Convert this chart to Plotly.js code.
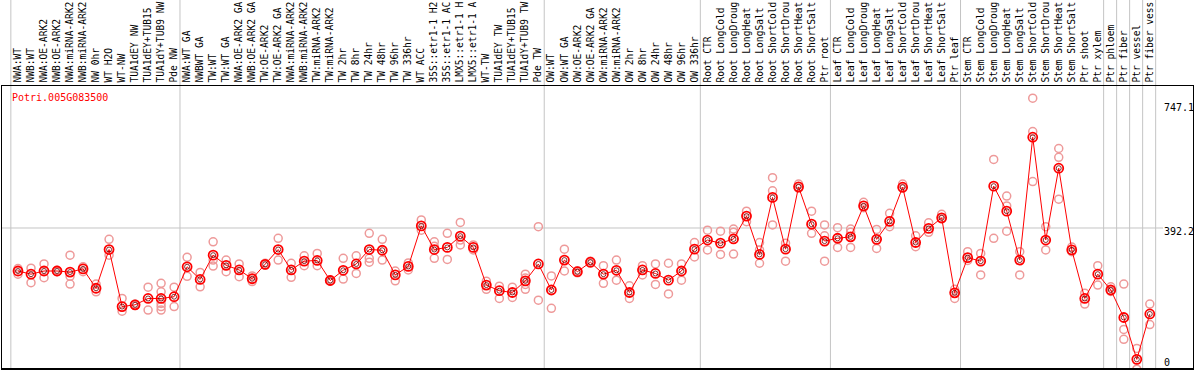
<!DOCTYPE html>
<html>
<head>
<meta charset="utf-8">
<script src="https://cdn.plot.ly/plotly-3.0.1.min.js"></script>
<style>html,body{margin:0;padding:0;background:#fff;}#chart{width:1194px;height:370px;}</style>
</head>
<body>
<div id="chart"></div>
<script>
var geneName = "Potri.005G083500";
var categories = [
"NWA:WT","NWB:WT","NWA:OE-ARK2","NWB:OE-ARK2","NWA:miRNA-ARK2","NWB:miRNA-ARK2","NW 0hr","WT H2O","WT-NW","TUA1dEY NW","TUA1dEY+TUB15","TUA1dY+TUB9 NW","Pde NW",
"NWA:WT GA","NWBWT GA","TW:WT","TW:WT GA","NWA:OE-ARK2 GA","NWB:OE-ARK2 GA","TW:OE-ARK2","TW:OE-ARK2 GA","NWA:miRNA-ARK2","NWB:miRNA-ARK2","TW:miRNA-ARK2","TW:miRNA-ARK2",
"TW 2hr","TW 8hr","TW 24hr","TW 48hr","TW 96hr","TW 336hr","WT ACC","35S::etr1-1 H2","35S::etr1-1 AC","LMX5::etr1-1 H","LMX5::etr1-1 A","WT-TW","TUA1dEY TW","TUA1dEY+TUB15","TUA1dY+TUB9 TW","Pde TW",
"OW:WT","OW:WT GA","OW:OE-ARK2","OW:OE-ARK2 GA","OW:miRNA-ARK2","OW:miRNA-ARK2","OW 2hr","OW 8hr","OW 24hr","OW 48hr","OW 96hr","OW 336hr",
"Root CTR","Root LongCold","Root LongDroug","Root LongHeat","Root LongSalt","Root ShortCold","Root ShortDrou","Root ShortHeat","Root ShortSalt","Ptr root",
"Leaf CTR","Leaf LongCold","Leaf LongDroug","Leaf LongHeat","Leaf LongSalt","Leaf ShortCold","Leaf ShortDrou","Leaf ShortHeat","Leaf ShortSalt","Ptr leaf",
"Stem CTR","Stem LongCold","Stem LongDroug","Stem LongHeat","Stem LongSalt","Stem ShortCold","Stem ShortDrou","Stem ShortHeat","Stem ShortSalt","Ptr shoot",
"Ptr xylem","Ptr phloem","Ptr fiber","Ptr vessel","Ptr fiber vess"
];
var meanValues = [
270,261,270,270,267,276,221,331,169,174,192,192,197,
282,246,315,286,273,248,289,331,273,298,300,243,
272,290,331,329,259,283,398,331,337,369,337,230,214,209,242,290,
216,301,268,295,261,272,209,273,263,244,270,332,
358,349,361,426,317,479,332,509,403,355,
363,367,455,360,411,508,351,391,421,208,
308,298,511,440,301,650,358,562,330,192,
261,216,138,19,148
];
var replicateValues = [
[277,261],[278,237],[290,251],[272,268],[315,255,233],[282,268],[233,211],[360,315],[192,156],[176,172],[224,159],[235,211,178,169,159],[224,169],
[309,255],[266,225],[353,301,284],[301,268],[290,254],[256,240],[292,287],[363,301],[292,252],[313,285],[320,285],[245,241],
[306,247],[313,263],[377,306,295],[360,301],[270,242],[293,273],[415,386],[353,340,306],[377,303],[408,358,344],[344,330],[241,218],[227,192],[224,195],[261,250,232,218],[396,187],
[256,164],[332,270],[271,265],[298,292],[285,235],[301,244],[228,192],[285,259],[290,232],[292,205],[290,244],[351,310],
[386,330],[383,317],[389,380,318],[440,410],[351,330,292],[535,498,401],[349,298],[517,505],[440,377],[401,370,298],
[393,337],[389,380,337],[465,450],[388,334],[434,396],[517,505],[370,339],[407,380],[431,418],[218,192],
[325,300],[320,259],[587,363],[483,455,383],[325,259],[761,666,524],[396,330],[618,593,474],[338,325],[207,176],
[285,230],[225,212],[233,104,76],[50,-9],[176,118]
];
var yTickValues = [0, 392.2, 747.1];
var yTickLabels = ["0", "392.2", "747.1"];
var yTickShift = [4, -4, -4];
var groupStarts = [0, 13, 41, 53, 63, 73, 84, 85, 86, 87, 88];

var idx = categories.map(function(_, i){ return i; });
var repX = [], repY = [];
replicateValues.forEach(function(arr, i){ arr.forEach(function(v){ repX.push(i); repY.push(v); }); });

var mono = "DejaVu Sans Mono, monospace";
var traces = [
  {x: repX, y: repY, type: 'scatter', mode: 'markers', hoverinfo: 'skip',
   marker: {symbol: 'circle-open', size: 8, color: '#EE9A9A', line: {width: 1.5}}},
  {x: idx, y: meanValues, type: 'scatter', mode: 'lines+markers',
   line: {color: '#FF0000', width: 1},
   marker: {symbol: 'circle-open', size: 9, color: '#FF0000', line: {width: 1.8}}},
  {x: idx, y: meanValues, type: 'scatter', mode: 'markers', hoverinfo: 'skip',
   marker: {symbol: 'circle-open', size: 5, color: '#660000', line: {width: 0.8}}}
];

var shapes = [];
groupStarts.forEach(function(g){
  shapes.push({type: 'line', xref: 'x', yref: 'paper', x0: g - 0.55, x1: g - 0.55, y0: 0, y1: 368/282,
    line: {color: '#C4C4C4', width: 1}, layer: 'below'});
});
shapes.push({type: 'line', xref: 'paper', yref: 'y', x0: 0, x1: (1163-2)/1191, y0: yTickValues[1], y1: yTickValues[1],
  line: {color: '#C4C4C4', width: 1}, layer: 'below'});

var annotations = [{
  xref: 'paper', yref: 'paper', x: 8/1191, y: (368-97)/282, xanchor: 'left', yanchor: 'middle',
  text: geneName, showarrow: false, font: {family: mono, size: 10, color: '#FF0000'}
}];
yTickValues.forEach(function(v, k){
  annotations.push({xref: 'paper', yref: 'y', x: (1162-2)/1191, y: v, yshift: yTickShift[k], xanchor: 'left', yanchor: 'middle',
    text: yTickLabels[k], showarrow: false, font: {family: mono, size: 10, color: '#000'}});
});

var layout = {
  width: 1194, height: 370,
  margin: {l: 2, r: 1, t: 86, b: 2, pad: 0},
  paper_bgcolor: '#fff', plot_bgcolor: '#fff',
  showlegend: false,
  xaxis: {range: [-1.23, 90.32], side: 'top', tickmode: 'array', tickvals: idx, ticktext: categories,
    tickangle: -90, ticks: '', showgrid: false, zeroline: false,
    showline: true, mirror: true, linecolor: '#000', linewidth: 1.5,
    tickfont: {family: mono, size: 9.6, color: '#000'}, automargin: false},
  yaxis: {range: [-5.5, 795.5], showticklabels: false, ticks: '', showgrid: false, zeroline: false,
    showline: true, mirror: true, linecolor: '#000', linewidth: 1.5},
  shapes: shapes,
  annotations: annotations
};
Plotly.newPlot('chart', traces, layout, {staticPlot: true, displayModeBar: false});
</script>
</body>
</html>
